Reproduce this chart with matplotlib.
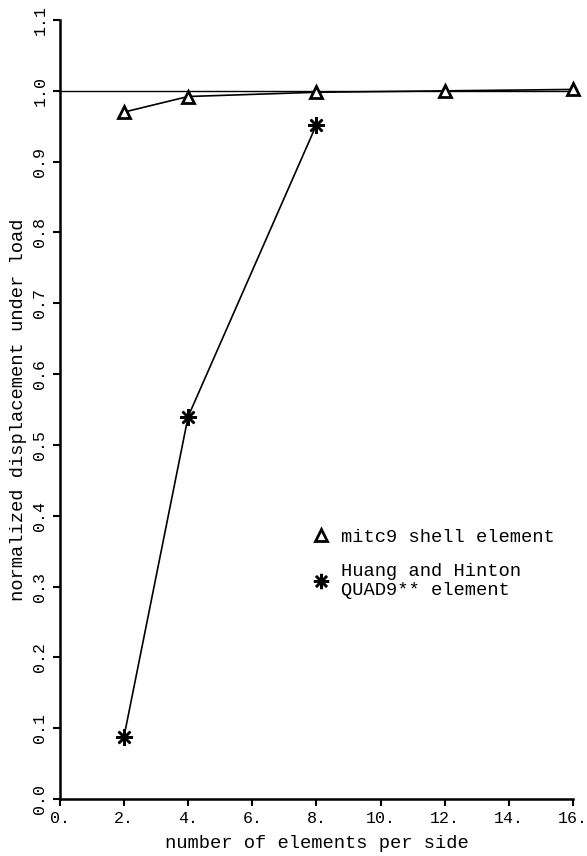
import numpy as np
import matplotlib
matplotlib.use("Agg")
import matplotlib.pyplot as plt

plt.rcParams['font.family'] = ['Liberation Mono', 'DejaVu Sans Mono']

# data
n_elem = [2, 4, 8, 12, 16]
mitc9 = [0.970, 0.992, 0.998, 1.000, 1.002]

n_elem_hh = [2, 4, 8]
huang = [0.088, 0.540, 0.952]

xticks = [0, 2, 4, 6, 8, 10, 12, 14, 16]
xlabels = ["0.", "2.", "4.", "6.", "8.", "10.", "12.", "14.", "16."]
yticks = [0.0, 0.1, 0.2, 0.3, 0.4, 0.5, 0.6, 0.7, 0.8, 0.9, 1.0, 1.1]
ylabels = ["%.1f" % v for v in yticks]

if __name__ == "__main__":
    fig = plt.figure(figsize=(5.87, 8.56), dpi=100)
    ax = fig.add_axes([0.102, 0.0666, 0.976 - 0.102, 0.9766 - 0.0666])

    ax.plot([0, 16], [1.0, 1.0], color="k", lw=1.0)
    ax.plot(n_elem, mitc9, color="k", lw=1.2, marker="^", ms=9,
            mfc="white", mec="k", mew=2, clip_on=False)
    ax.plot(n_elem_hh, huang, color="k", lw=1.2, marker=(8, 2, 0), ms=12,
            mew=1.8, clip_on=False)

    ax.set_xlim(0, 16)
    ax.set_ylim(0, 1.1)
    ax.spines["top"].set_visible(False)
    ax.spines["right"].set_visible(False)
    ax.spines["left"].set_linewidth(1.8)
    ax.spines["bottom"].set_linewidth(1.8)

    ax.set_xticks(xticks)
    ax.set_xticklabels(xlabels, fontsize=12)
    ax.set_yticks(yticks)
    ax.set_yticklabels(ylabels, fontsize=12, rotation=90, va="center")
    ax.tick_params(direction="out", length=5, width=1.5, pad=4)

    ax.set_xlabel("number of elements per side", fontsize=13.5, labelpad=6)
    ax.set_ylabel("normalized displacement under load", fontsize=13.5, labelpad=4)

    # legend: markers only
    h1 = plt.Line2D([], [], ls="none", marker="^", ms=8, mfc="white", mec="k", mew=2)
    h2 = plt.Line2D([], [], ls="none", marker=(8, 2, 0), ms=11, mec="k", mew=1.8)
    ax.legend([h1, h2], ["mitc9 shell element", "Huang and Hinton\nQUAD9** element"],
              loc="upper left", bbox_to_anchor=(0.494, 0.347), frameon=False,
              fontsize=13.5, handlelength=0.8, handletextpad=0.7,
              labelspacing=0.9, borderpad=0, borderaxespad=0)

    plt.savefig("out.png", dpi=100)
